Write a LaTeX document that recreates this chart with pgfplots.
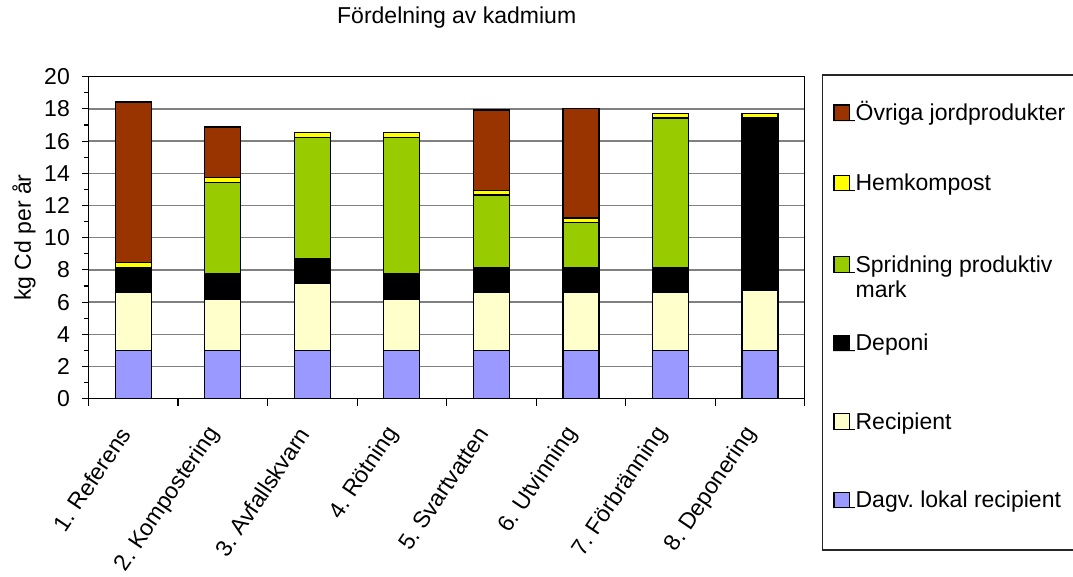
\documentclass[border=0pt]{standalone}
\usepackage{fontspec}
\setmainfont{Liberation Sans}
\usepackage{pgfplots}
\pgfplotsset{compat=1.18}
\usepackage{pgfplotstable}

\definecolor{cDagv}{HTML}{9999FF}
\definecolor{cRecip}{HTML}{FFFFCC}
\definecolor{cDeponi}{HTML}{000000}
\definecolor{cSprid}{HTML}{99CC00}
\definecolor{cHemk}{HTML}{FFFF00}
\definecolor{cOvr}{HTML}{993300}

\newcommand\chartfont{\fontsize{23}{25.5}\selectfont\frenchspacing}

% kg Cd per år, per scenario and destination
\pgfplotstableread{
idx dagv recip deponi sprid hemk ovr
0   3.00 3.63  1.54   0.00  0.29 9.96
1   3.00 3.18  1.58   5.68  0.29 3.15
2   3.00 4.17  1.54   7.53  0.31 0.00
3   3.00 3.18  1.58   8.48  0.31 0.00
4   3.00 3.60  1.57   4.48  0.29 5.00
5   3.00 3.63  1.54   2.76  0.29 6.82
6   3.00 3.63  1.54   9.27  0.29 0.00
7   3.00 3.72  10.72  0.00  0.29 0.00
}\cdtable

\begin{document}
\frenchspacing
\begin{tikzpicture}
\useasboundingbox (0pt,0pt) rectangle (1073pt,-576pt);
\begin{axis}[
  at={(88.5pt,-398.7pt)}, anchor=south west,
  scale only axis, width=716.2pt, height=322pt,
  clip=false,
  ybar stacked, bar width=36pt,
  xmin=-0.5, xmax=7.5, ymin=0, ymax=20,
  xtick={-0.5,0.5,...,7.5}, xticklabels={},
  extra x ticks={0,...,7},
  extra x tick labels={1. Referens, 2. Kompostering, 3. Avfallskvarn, 4. Rötning,
    5. Svartvatten, 6. Utvinning, 7. Förbränning, 8. Deponering},
  extra x tick style={major tick length=0pt},
  ytick={0,2,...,20}, minor y tick num=1,
  tick align=outside, tick pos=left,
  major tick length=7pt, minor tick length=5pt,
  every tick/.style={black, line width=1.1pt},
  ymajorgrids,
  major grid style={color=black!50, line width=1.4pt},
  axis line style={black, line width=1.3pt},
  /pgf/number format/assume math mode=true,
  tick label style={font=\chartfont},
  yticklabel style={inner sep=0pt, anchor=east, xshift=-11.5pt},
  xticklabel style={inner sep=0pt, xshift=-8pt, yshift=-31pt, rotate=56, anchor=east},
  every axis y label/.style={at={(axis description cs:-0.0803,0.5)}, rotate=90, anchor=base, font=\chartfont},
  ylabel={kg Cd per år},
  title={Fördelning av kadmium},
  title style={at={(axis description cs:0.5141,1.1472)}, anchor=base, font=\chartfont},
  reverse legend,
  legend style={
    at={(axis description cs:1.03909,0.91522)}, anchor=north west,
    draw=none, fill=none, inner sep=0pt, outer sep=0pt,
    font=\chartfont, cells={anchor=base west},
    nodes={inner sep=0pt, text height=16.5pt, text depth=9pt},
    row sep=53pt},
  legend image code/.code={
    \draw[#1, overlay, line width=1.2pt] (0.6pt,0pt) rectangle (16pt,15.5pt);
    \path (0pt,0pt) rectangle (21.6pt,0pt);
  },
]
\addplot[fill=cDagv, draw=black, line width=1.3pt] table[x=idx, y=dagv] {\cdtable};
\addlegendentry{Dagv. lokal recipient}
\addplot[fill=cRecip, draw=black, line width=1.3pt] table[x=idx, y=recip] {\cdtable};
\addlegendentry{Recipient}
\addplot[fill=cDeponi, draw=black, line width=1.3pt] table[x=idx, y=deponi] {\cdtable};
\addlegendentry{Deponi}
\addplot[fill=cSprid, draw=black, line width=1.3pt] table[x=idx, y=sprid] {\cdtable};
\addlegendentry[text depth=9pt]{\begin{tabular}[t]{@{}l@{}}Spridning produktiv\\mark\end{tabular}}
\addplot[fill=cHemk, draw=black, line width=1.3pt] table[x=idx, y=hemk] {\cdtable};
\addlegendentry[text depth=12pt]{Hemkompost}
\addplot[fill=cOvr, draw=black, line width=1.3pt] table[x=idx, y=ovr] {\cdtable};
\addlegendentry[text depth=0pt]{Övriga jordprodukter}

% frame around the legend
\draw[black!85, line width=1.2pt]
  (axis description cs:1.02513,1.00528) rectangle (axis description cs:1.3774,-0.46988);
\end{axis}
\end{tikzpicture}
\end{document}
